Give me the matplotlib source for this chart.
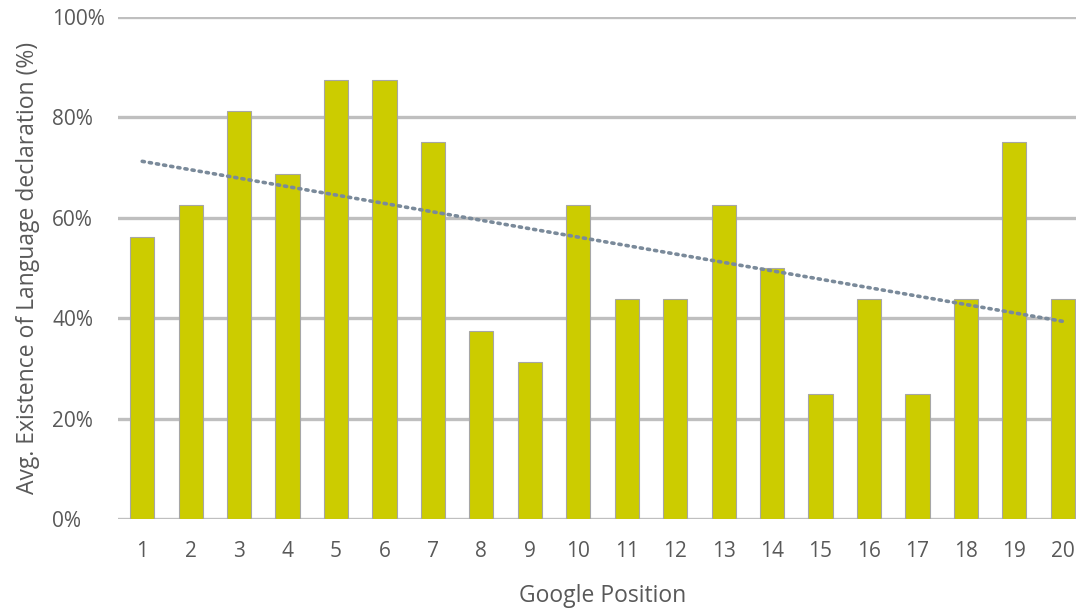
import numpy as np
import matplotlib
matplotlib.use("Agg")
import matplotlib.pyplot as plt

# google position vs share of pages with a language declaration
positions = list(range(1, 21))
share = [56.25, 62.5, 81.25, 68.75, 87.5, 87.5, 75, 37.5, 31.25, 62.5,
         43.75, 43.75, 62.5, 50, 25, 43.75, 25, 43.75, 75, 43.75]
y_ticks = [0, 20, 40, 60, 80, 100]
y_labels = ["0%", "20%", "40%", "60%", "80%", "100%"]

plt.rcParams['font.family'] = ['Open Sans', 'DejaVu Sans']

W, H = 1076, 609
fig = plt.figure(figsize=(W / 100, H / 100), dpi=100)
ax = fig.add_axes([118 / W, 1 - 519 / H, 969 / W, 502 / H])

for t in y_ticks:
    ax.axhline(t, color='#bfbfbf', lw=2.4, zorder=0)

ax.bar(positions, share, width=0.5, color='#cccc00', edgecolor='#a6a6a6',
       linewidth=0.8, zorder=2)

# linear trendline
slope, icpt = np.polyfit(positions, share, 1)
xs = np.array([positions[0], positions[-1]])
ax.plot(xs, slope * xs + icpt, color='#7a8a9a', lw=2.6, ls=(0, (0.6, 1.4)),
        dash_capstyle='round', zorder=3)

ax.set_xlim(0.5, 20.5)
ax.set_ylim(0, 100)
ax.set_xticks(positions)
ax.set_yticks(y_ticks)
ax.set_yticklabels(y_labels)
for s in ax.spines.values():
    s.set_visible(False)
ax.tick_params(length=0, labelsize=15, colors='#595959')
ax.tick_params(axis='x', pad=16)
# labels in the reference are left aligned
ax.tick_params(axis='y', pad=47.5)
for lab in ax.get_yticklabels():
    lab.set_ha('left')

fig.text(603 / W, 1 - 602 / H, "Google Position", fontsize=16.5,
         color='#595959', ha='center', va='baseline')
fig.text(28 / W, 1 - 268 / H, "Avg. Existence of Language declaration (%)",
         fontsize=16.5, color='#595959', ha='center', va='center', rotation=90)

fig.savefig("out.png", dpi=100)
